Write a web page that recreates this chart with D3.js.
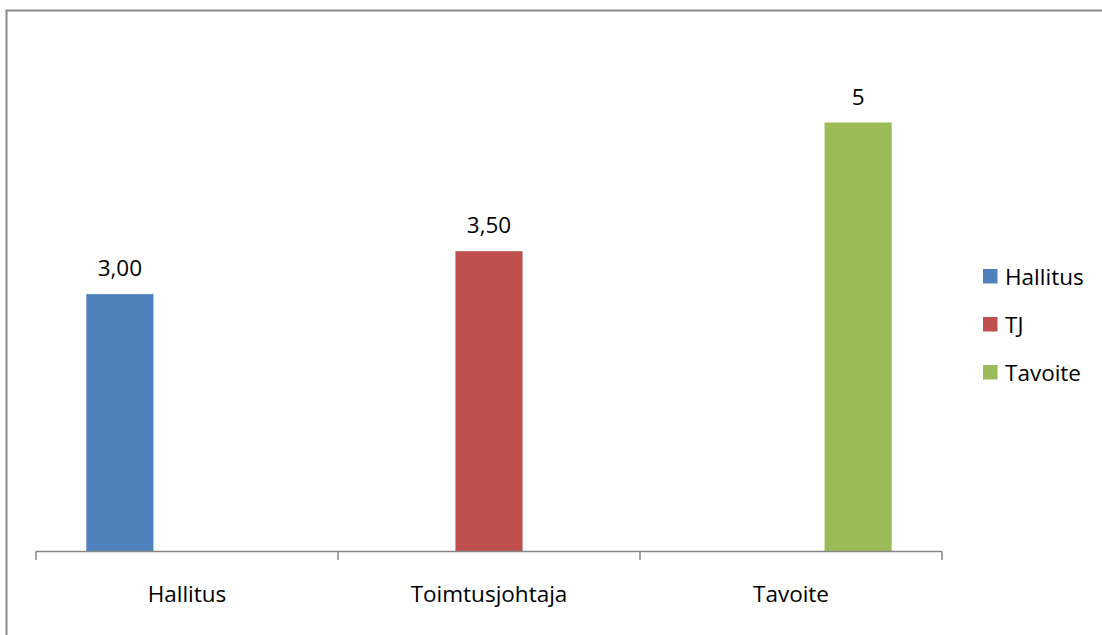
<!DOCTYPE html>
<html><head><meta charset="utf-8">
<script src="https://cdn.jsdelivr.net/npm/d3@7"></script>
<style>body{margin:0;background:#fff;}svg{display:block;}text{font-family:"Open Sans",sans-serif;fill:#000;}</style>
</head><body><svg id="c" width="1102" height="635"></svg>
<script>
const categories = ["Hallitus", "Toimtusjohtaja", "Tavoite"];
const seriesNames = ["Hallitus", "TJ", "Tavoite"];
const hallitusValues = [3.0, null, null];
const tjValues = [null, 3.5, null];
const tavoiteValues = [null, null, 5];
const valueLabels = [["3,00", null, null], [null, "3,50", null], [null, null, "5"]];
const colors = ["#4F81BD", "#C0504D", "#9BBB59"];
const yMax = 6;

const seriesValues = [hallitusValues, tjValues, tavoiteValues];
const svg = d3.select("#c");
const FS = 22.5;

// outer frame
svg.append("rect").attr("x", 6.5).attr("y", 10.5).attr("width", 1200).attr("height", 700)
  .attr("fill", "none").attr("stroke", "#8a8a8a").attr("stroke-width", 2);

const x0 = d3.scaleBand().domain(categories).range([36, 942]).padding(0);
const x1 = d3.scaleBand().domain(seriesNames).range([0, x0.bandwidth()]).paddingInner(0).paddingOuter(0.75);
const y = d3.scaleLinear().domain([0, yMax]).range([551.5, 551.5 - 85.8 * yMax]);

const g = svg.append("g");
seriesNames.forEach((s, si) => {
  categories.forEach((c, ci) => {
    const v = seriesValues[si][ci];
    if (v == null) return;
    const bx = x0(c) + x1(s);
    g.append("rect").attr("x", bx).attr("y", y(v)).attr("width", x1.bandwidth())
      .attr("height", y(0) - y(v)).attr("fill", colors[si]);
    g.append("text").attr("x", bx + x1.bandwidth() / 2).attr("y", y(v) - 18)
      .attr("text-anchor", "middle").attr("font-size", FS).text(valueLabels[si][ci]);
  });
});

// axis
const axis = d3.axisBottom(x0).tickSize(0).tickPadding(0);
const ag = svg.append("g").attr("transform", "translate(0,551.5)").call(axis);
ag.select(".domain").remove();
ag.selectAll("text").attr("font-size", FS).attr("dy", null).attr("y", 50.5).attr("fill", "#000")
  .attr("font-family", "'Open Sans',sans-serif");
svg.append("line").attr("x1", 36).attr("x2", 942).attr("y1", 551.5).attr("y2", 551.5)
  .attr("stroke", "#868686").attr("stroke-width", 1.5);
const bounds = categories.map(c => x0(c)).concat([x0(categories[categories.length - 1]) + x0.bandwidth()]);
svg.selectAll(".tk").data(bounds).enter().append("line")
  .attr("x1", d => d).attr("x2", d => d).attr("y1", 551.5).attr("y2", 560)
  .attr("stroke", "#868686").attr("stroke-width", 1.5);

// legend
const lg = svg.append("g").attr("transform", "translate(983,269)");
seriesNames.forEach((s, i) => {
  lg.append("rect").attr("x", 0).attr("y", i * 48).attr("width", 14.5).attr("height", 14.5).attr("fill", colors[i]);
  lg.append("text").attr("x", 22).attr("y", i * 48 + 15.5).attr("font-size", FS).text(s);
});
</script></body></html>
